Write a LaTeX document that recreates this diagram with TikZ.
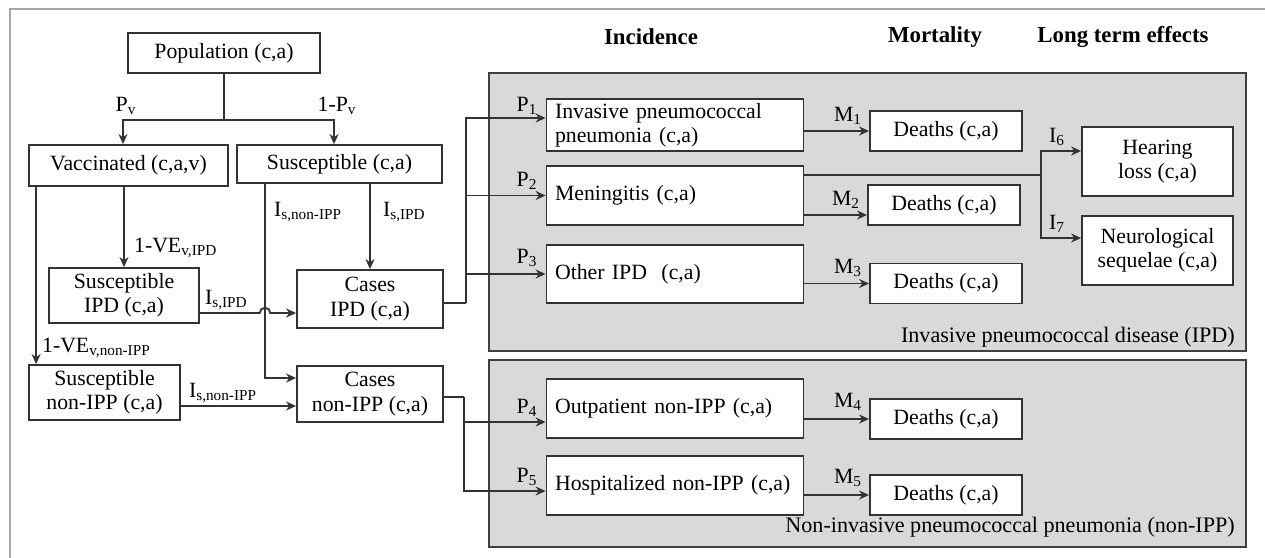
\documentclass[tikz,border=0pt]{standalone}
\usepackage{fontspec}
\setmainfont{Liberation Serif}
\usetikzlibrary{arrows.meta, positioning, calc}

\begin{document}
\begin{tikzpicture}[
  x=0.02cm, y=-0.02cm,
  font=\fontsize{12.4}{13.8}\selectfont,
  box/.style={draw=black!80, fill=white, line width=1.05pt, align=center, inner sep=2pt},
  wbox/.style={box, minimum width=5.14cm, minimum height=1.17cm, text width=4.8cm, align=left},
  dbox/.style={box, minimum width=3.04cm, minimum height=0.8cm},
  lbox/.style={box, minimum width=3.02cm, minimum height=1.38cm},
  arrow/.style={-{Stealth[length=2mm,width=1.8mm]}, line width=1.05pt, black!80},
  conn/.style={line width=1.05pt, black!80},
  panel/.style={draw=black!75, fill=black!15, line width=1.05pt},
  note/.style={inner sep=1pt},
  plab/.style={anchor=base east, font=\fontsize{12.6}{15}\selectfont},
  head/.style={font=\fontsize{13}{15}\selectfont\bfseries}
]
  \useasboundingbox (0,0) rectangle (1265,558);
  \draw[black!35, line width=0.8pt] (10,558) -- (10,9) -- (1265,9);

  \draw[panel] (489,73) rectangle (1246,351);
  \draw[panel] (489,360) rectangle (1246,547);
  \node[plab] (ipdlab) at (1241,342) {Invasive pneumococcal disease (IPD)};
  \node[plab] (nonlab) at (1241,532) {Non-invasive pneumococcal pneumonia (non-IPP)};

  \node[head] (hinc) at (651,37) {Incidence};
  \node[head] (hmort) at (935,37) {Mortality};
  \node[head] (hlong) at (1123,37) {Long term effects};

  \node[box, minimum width=3.84cm, minimum height=0.8cm] (pop) at (224,53) {Population (c,a)};
  \node[box, minimum width=3.98cm, minimum height=0.82cm] (vacc) at (128.5,165.5) {Vaccinated (c,a,v)};
  \node[box, minimum width=4.1cm, minimum height=0.76cm] (susc) at (339.5,164) {Susceptible (c,a)};
  \node[box, minimum width=3.0cm, minimum height=1.1cm] (suscipd) at (124,295.5) {Susceptible\\IPD (c,a)};
  \node[box, minimum width=3.02cm, minimum height=1.1cm] (suscnon) at (104.5,392.5) {Susceptible\\non-IPP (c,a)};
  \node[box, minimum width=2.92cm, minimum height=1.16cm] (casesipd) at (370,299) {Cases\\IPD (c,a)};
  \node[box, minimum width=2.92cm, minimum height=1.12cm] (casesnon) at (370,394) {Cases\\non-IPP (c,a)};

  \node[wbox, minimum height=1.04cm] (ipp) at (675,125) {Invasive pneumococcal\\pneumonia (c,a)};
  \node[wbox] (men) at (675,195.5) {Meningitis (c,a)};
  \node[wbox, minimum height=1.16cm] (oth) at (675,274) {Other IPD\ \ (c,a)};
  \node[wbox] (outp) at (675,408.5) {Outpatient non-IPP (c,a)};
  \node[wbox] (hosp) at (675,485.5) {Hospitalized non-IPP (c,a)};

  \node[dbox] (d1) at (946,131) {Deaths (c,a)};
  \node[dbox] (d2) at (944,205) {Deaths (c,a)};
  \node[dbox] (d3) at (946,283.5) {Deaths (c,a)};
  \node[dbox] (d4) at (946,419) {Deaths (c,a)};
  \node[dbox] (d5) at (946,495) {Deaths (c,a)};

  \node[lbox] (hear) at (1157.5,161.5) {Hearing\\loss (c,a)};
  \node[lbox] (neuro) at (1157.5,250.5) {Neurological\\sequelae (c,a)};

  \coordinate (popj) at (224,120);
  \coordinate (pvl) at (123,120);
  \coordinate (pvr) at (334,120);
  \draw[conn] (pop.south) -- (popj);
  \draw[arrow] (popj) -- (pvl) -- (pvl |- vacc.north);
  \draw[arrow] (popj) -- (pvr) -- (pvr |- susc.north);
  \node[note] (lpv) at (126,106) {P\textsubscript{v}};
  \node[note] (lnpv) at (337,106) {1-P\textsubscript{v}};

  \draw[arrow] ([xshift=0.16cm]vacc.south west) -- ([xshift=0.16cm]vacc.south west |- suscnon.north);
  \draw[arrow] (suscipd.north |- vacc.south) -- (suscipd.north);
  \node[note, anchor=west] (lveipd) at (132,248) {1-VE\textsubscript{v,IPD}};
  \node[note, anchor=west] (lvenon) at (40,348) {1-VE\textsubscript{v,non-IPP}};

  \coordinate (nonin) at (265,378);
  \coordinate (ipdin) at (265,313);
  \coordinate (noninb) at (200,406);
  \draw[arrow] (susc.south -| nonin) -- (nonin) -- (nonin -| casesnon.west);
  \draw[arrow] (susc.south -| casesipd.north) -- (casesipd.north);
  \draw[arrow] (suscipd.east |- ipdin) -- ([xshift=-3pt]ipdin)
    arc[start angle=180, end angle=0, radius=3pt] -- (ipdin -| casesipd.west);
  \draw[arrow] (suscnon.east |- noninb) -- (noninb -| casesnon.west);
  \node[note, anchor=west] (lisnon) at (272,212) {I\textsubscript{s,non-IPP}};
  \node[note, anchor=west] (lisipd) at (381,212) {I\textsubscript{s,IPD}};
  \node[note, anchor=west] (lisipdb) at (203,300) {I\textsubscript{s,IPD}};
  \node[note, anchor=west] (lisnonb) at (187,393) {I\textsubscript{s,non-IPP}};

  \coordinate (ipdj) at (466,303);
  \coordinate (nonj) at (464,397);
  \draw[conn] (casesipd.east |- ipdj) -- (ipdj);
  \draw[arrow] (ipdj) |- ([yshift=0.14cm]ipp.west);
  \draw[arrow] (ipdj) |- (men.west);
  \draw[arrow] (ipdj) |- (oth.west);
  \draw[conn] (casesnon.east |- nonj) -- (nonj);
  \draw[arrow] (nonj) |- ([yshift=-0.27cm]outp.west);
  \draw[arrow] (nonj) |- ([yshift=-0.11cm]hosp.west);
  \node[note] (lp1) at (527,106) {P\textsubscript{1}};
  \node[note] (lp2) at (527,181) {P\textsubscript{2}};
  \node[note] (lp3) at (527,258) {P\textsubscript{3}};
  \node[note] (lp4) at (527,408) {P\textsubscript{4}};
  \node[note] (lp5) at (527,477) {P\textsubscript{5}};

  \coordinate (m2) at (830,215);
  \draw[arrow] (ipp.east |- d1.west) -- (d1.west);
  \draw[arrow] (men.east |- m2) -- (m2 -| d2.west);
  \draw[arrow] (oth.east |- d3.west) -- (d3.west);
  \draw[arrow] (outp.east |- d4.west) -- (d4.west);
  \draw[arrow] (hosp.east |- d5.west) -- (d5.west);
  \node[note] (lm1) at (848,116) {M\textsubscript{1}};
  \node[note] (lm2) at (846,200) {M\textsubscript{2}};
  \node[note] (lm3) at (848,268) {M\textsubscript{3}};
  \node[note] (lm4) at (848,402) {M\textsubscript{4}};
  \node[note] (lm5) at (848,478) {M\textsubscript{5}};

  \coordinate (menj) at (1041,175);
  \draw[conn] (men.east |- menj) -- (menj);
  \draw[arrow] (menj) |- ([yshift=0.21cm]hear.west);
  \draw[arrow] (menj) |- ([yshift=0.25cm]neuro.west);
  \node[note] (li6) at (1057,137) {I\textsubscript{6}};
  \node[note] (li7) at (1057,224) {I\textsubscript{7}};
\end{tikzpicture}
\end{document}
